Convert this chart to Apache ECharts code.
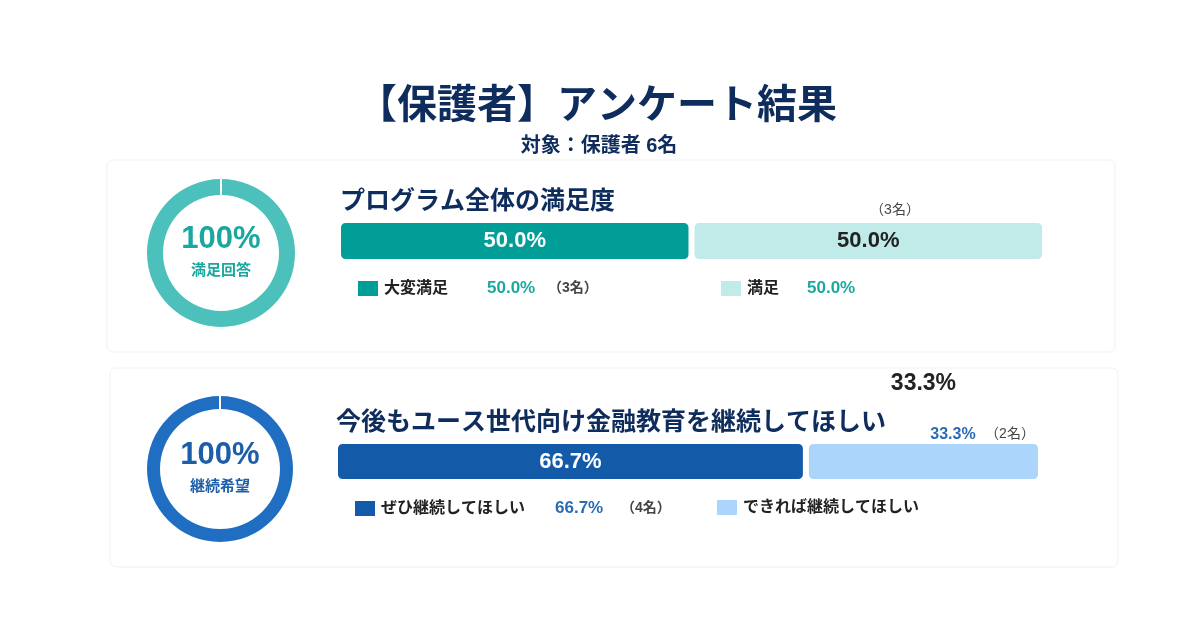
<!DOCTYPE html>
<html>
<head>
<meta charset="utf-8">
<script src="https://cdn.jsdelivr.net/npm/echarts@6/dist/echarts.min.js"></script>
<style>
  html, body { margin: 0; padding: 0; background: #fff; }
  #main { width: 1200px; height: 644px; }
</style>
</head>
<body>
<div id="main"></div>
<script>
// 満足度
var satNames = ['大変満足', '満足'];
var satValues = [50.0, 50.0];
var satCounts = [3, 3];
// 継続希望
var contNames = ['ぜひ継続してほしい', 'できれば継続してほしい'];
var contValues = [66.7, 33.3];
var contCounts = [4, 2];

var FONT = 'Arial, "Liberation Sans", "Noto Sans CJK JP", sans-serif';
var NAVY = '#0e2c5c';

var chart = echarts.init(document.getElementById('main'));

function sum(a) { return a.reduce(function (s, v) { return s + v; }, 0); }

function ring(center, r, color, total, label, textColor) {
  return {
    type: 'pie',
    center: center,
    radius: r,
    silent: true,
    startAngle: 90,
    data: [{ value: total, name: label }],
    itemStyle: { color: color },
    label: {
      show: true,
      position: 'center',
      formatter: function () { return '{a|' + Math.round(total) + '%}\n{b|' + label + '}'; },
      rich: {
        a: { fontFamily: FONT, fontSize: 31, fontWeight: 'bold', color: textColor, lineHeight: 36, padding: [0, 0, 2, 0] },
        b: { fontFamily: FONT, fontSize: 15, fontWeight: 'bold', color: textColor, lineHeight: 26 }
      }
    },
    labelLine: { show: false }
  };
}

// one legend per item so each sits where the reference puts it
function legendItem(name, left, top, nameW, valW, formatter, color) {
  return {
    data: [name], left: left, top: top, padding: 0, icon: 'rect', itemWidth: 22, itemHeight: 17, itemGap: 0,
    selectedMode: false, formatter: formatter,
    textStyle: {
      fontFamily: FONT, fontSize: 16, fontWeight: 'bold', color: '#222',
      rich: {
        n: { fontFamily: FONT, fontSize: 16, fontWeight: 'bold', color: '#222', width: nameW },
        v: { fontFamily: FONT, fontSize: 17, fontWeight: 'bold', color: color, width: valW },
        c: { fontFamily: FONT, fontSize: 14, color: '#444' }
      }
    }
  };
}

var option = {
  backgroundColor: '#fff',
  animation: false,
  grid: [
    { left: 338, top: 220, width: 707, height: 42 },
    { left: 335, top: 441, width: 706, height: 41 }
  ],
  xAxis: [
    { gridIndex: 0, type: 'value', min: 0, max: 100, show: false },
    { gridIndex: 1, type: 'value', min: 0, max: 100, show: false }
  ],
  yAxis: [
    { gridIndex: 0, type: 'category', data: ['満足度'], show: false },
    { gridIndex: 1, type: 'category', data: ['継続'], show: false }
  ],
  legend: [
    legendItem(satNames[0], 356, 279, 103, 61, function (n) {
      return '{n|' + n + '}{v|' + satValues[0].toFixed(1) + '%}{c|（' + satCounts[0] + '名）}';
    }, '#1aa8a0'),
    legendItem(satNames[1], 719, 279, 60, 60, function (n) {
      return '{n|' + n + '}{v|' + satValues[1].toFixed(1) + '%}';
    }, '#1aa8a0'),
    legendItem(contNames[0], 353, 499, 174, 66, function (n) {
      return '{n|' + n + '}{v|' + contValues[0].toFixed(1) + '%}{c|（' + contCounts[0] + '名）}';
    }, '#2a6cb3'),
    legendItem(contNames[1], 715, 498, 200, 60, function (n) {
      return '{n|' + n + '}';
    }, '#2a6cb3')
  ],
  graphic: [
    { type: 'rect', shape: { x: 107, y: 160, width: 1008, height: 192, r: 6 }, style: { fill: 'none', stroke: '#f0f1f3', lineWidth: 1 }, z: -1 },
    { type: 'rect', shape: { x: 110, y: 368, width: 1008, height: 199, r: 6 }, style: { fill: 'none', stroke: '#f0f1f3', lineWidth: 1 }, z: -1 },
    { type: 'text', x: 597, y: 107, style: { text: '【保護者】アンケート結果', fill: NAVY, font: 'bold 40px ' + FONT, align: 'center', verticalAlign: 'middle' } },
    { type: 'text', x: 599, y: 146, style: { text: '対象：保護者 ' + sum(satCounts) + '名', fill: NAVY, font: 'bold 20px ' + FONT, align: 'center', verticalAlign: 'middle' } },
    { type: 'text', x: 340, y: 202, style: { text: 'プログラム全体の満足度', fill: NAVY, font: 'bold 25px ' + FONT, align: 'left', verticalAlign: 'middle' } },
    { type: 'text', x: 336, y: 423, style: { text: '今後もユース世代向け金融教育を継続してほしい', fill: NAVY, font: 'bold 25px ' + FONT, align: 'left', verticalAlign: 'middle' } },
    { type: 'text', x: 895, y: 210, style: { text: '（' + satCounts[1] + '名）', fill: '#444', font: '14px ' + FONT, align: 'center', verticalAlign: 'middle' } },
    { type: 'text', x: 953, y: 435, style: { text: contValues[1].toFixed(1) + '%', fill: '#2a6cb3', font: 'bold 16px ' + FONT, align: 'center', verticalAlign: 'middle' } },
    { type: 'text', x: 1010, y: 434, style: { text: '（' + contCounts[1] + '名）', fill: '#444', font: '14px ' + FONT, align: 'center', verticalAlign: 'middle' } },
    { type: 'rect', shape: { x: 220, y: 176, width: 2, height: 20 }, style: { fill: '#fff' }, z: 10 },
    { type: 'rect', shape: { x: 219, y: 394, width: 2, height: 18 }, style: { fill: '#fff' }, z: 10 }
  ],
  series: [
    ring([221, 253], [58, 74], '#4cc0bb', sum(satValues), '満足回答', '#1aa79f'),
    ring([220, 469], [60, 73], '#1f6ec2', sum(contValues), '継続希望', '#1d5ea8'),
    {
      name: satNames[0], type: 'bar', stack: 's', xAxisIndex: 0, yAxisIndex: 0, barWidth: 42,
      data: [satValues[0]], itemStyle: { color: '#009e97', borderRadius: 6, borderColor: '#fff', borderWidth: 3 },
      label: { show: true, position: 'inside', formatter: function (p) { return p.value.toFixed(1) + '%'; }, fontFamily: FONT, fontSize: 22, fontWeight: 'bold', color: '#fff' }
    },
    {
      name: satNames[1], type: 'bar', stack: 's', xAxisIndex: 0, yAxisIndex: 0, barWidth: 42,
      data: [satValues[1]], itemStyle: { color: '#c0ebe8', borderRadius: 6, borderColor: '#fff', borderWidth: 3 },
      label: { show: true, position: 'inside', formatter: function (p) { return p.value.toFixed(1) + '%'; }, fontFamily: FONT, fontSize: 22, fontWeight: 'bold', color: '#222' }
    },
    {
      name: contNames[0], type: 'bar', stack: 'c', xAxisIndex: 1, yAxisIndex: 1, barWidth: 41,
      data: [contValues[0]], itemStyle: { color: '#135ba9', borderRadius: 6, borderColor: '#fff', borderWidth: 3 },
      label: { show: true, position: 'inside', formatter: function (p) { return p.value.toFixed(1) + '%'; }, fontFamily: FONT, fontSize: 22, fontWeight: 'bold', color: '#fff' }
    },
    {
      name: contNames[1], type: 'bar', stack: 'c', xAxisIndex: 1, yAxisIndex: 1, barWidth: 41,
      data: [contValues[1]], itemStyle: { color: '#abd5fa', borderRadius: 6, borderColor: '#fff', borderWidth: 3 },
      label: { show: true, position: 'top', distance: 46, formatter: function (p) { return p.value.toFixed(1) + '%'; }, fontFamily: FONT, fontSize: 23, fontWeight: 'bold', color: '#222' }
    }
  ]
};

chart.setOption(option);
</script>
</body>
</html>
